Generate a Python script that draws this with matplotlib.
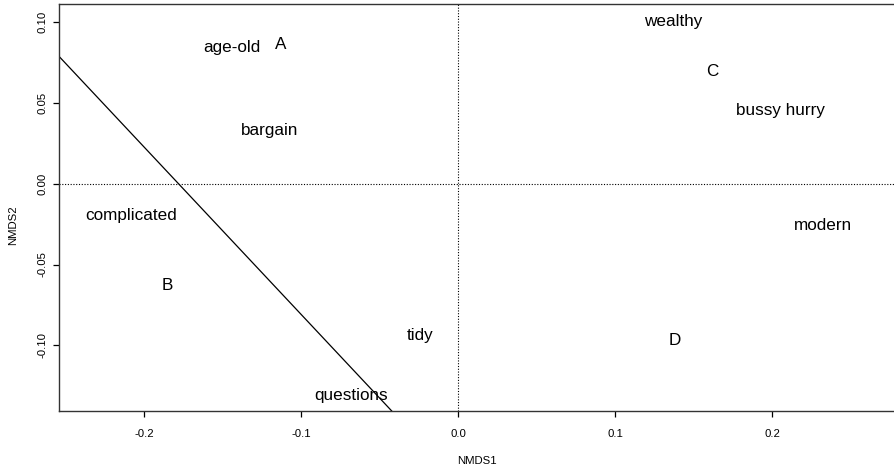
import numpy as np
import matplotlib
matplotlib.use("Agg")
import matplotlib.pyplot as plt

# NMDS scores
word_labels = ["age-old", "bargain", "complicated", "tidy", "questions",
               "wealthy", "bussy hurry", "modern"]
word_x = [-0.144, -0.120, -0.208, -0.024, -0.068, 0.137, 0.205, 0.232]
word_y = [0.084, 0.033, -0.020, -0.094, -0.131, 0.100, 0.045, -0.026]

group_labels = ["A", "B", "C", "D"]
group_x = [-0.113, -0.185, 0.162, 0.138]
group_y = [0.086, -0.063, 0.069, -0.097]

# separating line (abline): passes through (x0, 0) with slope
line_x0 = -0.178
line_slope = -1.035

x_ticks = [-0.2, -0.1, 0.0, 0.1, 0.2]
y_ticks = [-0.10, -0.05, 0.00, 0.05, 0.10]

plt.rcParams['font.family'] = ['Liberation Sans', 'DejaVu Sans']

fig = plt.figure(figsize=(8.94, 4.71), dpi=100)
ax = fig.add_axes([59 / 894, 1 - 411 / 471, (895 - 59) / 894, (411 - 4) / 471])

ax.set_xlim(-0.254, 0.278)
ax.set_ylim(-0.1405, 0.111)

ax.axhline(0, color='black', linestyle=(0, (1, 1.5)), linewidth=0.8)
ax.axvline(0, color='black', linestyle=(0, (1, 1.5)), linewidth=0.8)
ax.axline((line_x0, 0), slope=line_slope, color='black', linewidth=0.9)

for lab, x, y in zip(word_labels, word_x, word_y):
    ax.text(x, y, lab, ha='center', va='center', fontsize=12.3)
for lab, x, y in zip(group_labels, group_x, group_y):
    ax.text(x, y, lab, ha='center', va='center', fontsize=12.3)

ax.set_xticks(x_ticks)
ax.set_xticklabels([f"{v:.1f}" for v in x_ticks])
ax.set_yticks(y_ticks)
ax.set_yticklabels([f"{v:.2f}" for v in y_ticks], rotation=90, va='center')
ax.tick_params(axis='both', labelsize=8.2, length=4.3, width=0.9, direction='out')
ax.tick_params(axis='x', pad=8.6)
ax.tick_params(axis='y', pad=4.3)

for side in ['left', 'bottom', 'top', 'right']:
    ax.spines[side].set_linewidth(1.0)
    ax.spines[side].set_color('#333333')

# axis titles placed like R's title() in the (cropped) device
fig.text(477 / 894, 1 - 461 / 471, "NMDS1", fontsize=8.2, ha='center', va='center')
fig.text(13 / 894, 1 - 225 / 471, "NMDS2", fontsize=8.2, ha='center', va='center',
         rotation=90)

plt.savefig("out.png", dpi=100)
plt.close()
